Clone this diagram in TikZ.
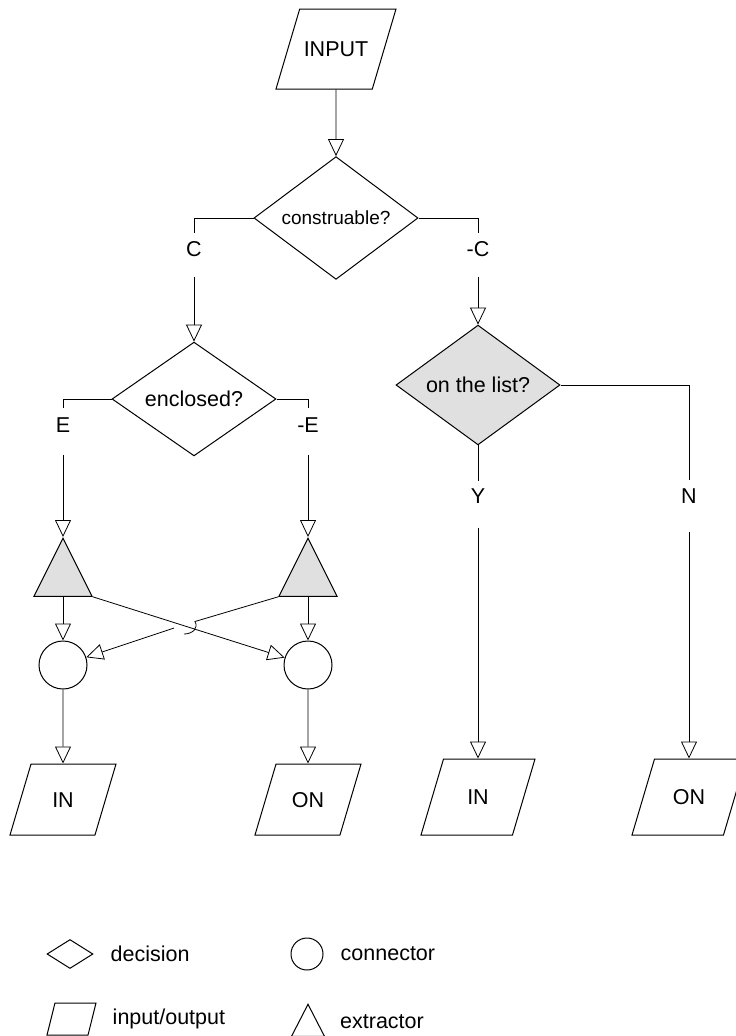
\documentclass[tikz,border=0pt]{standalone}
\usepackage{fontspec}
\setmainfont{Liberation Sans}
\usetikzlibrary{shapes.geometric,arrows.meta,positioning}

\tikzset{
    every node/.style={font=\fontsize{21.5pt}{25pt}\selectfont},
    link/.style={line width=0.8pt},
    flow/.style={line width=0.8pt, -{Triangle[open, length=17pt, width=16pt]}},
    decision/.style={diamond, draw, line width=1pt, minimum width=164pt, minimum height=108pt, inner sep=0pt},
    inout/.style={trapezium, trapezium left angle=73.5, trapezium right angle=106.5, trapezium stretches body, draw, line width=1pt, text height=15.5pt, text depth=0pt, inner xsep=0pt, inner ysep=27.75pt, minimum width=106pt},
    joint/.style={circle, draw, line width=1pt, minimum size=48pt, inner sep=0pt},
    extractor/.style={isosceles triangle, shape border rotate=90, isosceles triangle stretches, draw, line width=1pt, fill=black!12, minimum width=58pt, minimum height=58pt, inner sep=0pt, anchor=apex},
    flag/.style={inner sep=0pt},
}

\begin{document}
\begin{tikzpicture}[x=1pt, y=-1pt]
        \useasboundingbox (0,0) rectangle (736,1036);

        % flow chart
        \node[inout, minimum width=120pt, inner ysep=32.25pt] (input) at (336,49) {INPUT};
        \node[decision, font=\fontsize{19pt}{22pt}\selectfont] (constr) at (336,218) {construable?};
        \node[flag] (c) at (194,249) {C};
        \node[flag] (nc) at (478,249) {-C};
        \node[decision] (encl) at (194,399) {enclosed?};
        \node[decision, fill=black!12] (list) at (478,385) {on the list?};
        \node[flag] (e) at (63,425) {E};
        \node[flag] (ne) at (308,425) {-E};
        \node[flag] (y) at (478,496) {Y};
        \node[flag] (n) at (689,496) {N};
        \node[extractor] (ltri) at (63,537) {};
        \node[extractor] (rtri) at (308,537) {};
        \node[joint] (lcon) at (63,665) {};
        \node[joint] (rcon) at (308,665) {};
        \node[inout] (lin) at (63,799.5) {IN};
        \node[inout] (lon) at (308,799.5) {ON};
        \node[inout, minimum width=114pt, inner ysep=30.25pt] (rin) at (478,797) {IN};
        \node[inout, minimum width=114pt, inner ysep=30.25pt] (ron) at (689,797) {ON};

        \draw[flow] (input) -- (constr);
        \draw[link, shorten >=8pt] (constr.west) -| (c.north);
        \draw[flow, shorten <=20pt] (c.south) -- (encl.north);
        \draw[link, shorten >=8pt] (constr.east) -| (nc.north);
        \draw[flow, shorten <=20pt] (nc.south) -- (list.north);
        \draw[link, shorten >=9pt] (encl.west) -| (e.north);
        \draw[flow, shorten <=22pt] (e.south) -- (ltri.apex);
        \draw[link, shorten >=9pt] (encl.east) -| (ne.north);
        \draw[flow, shorten <=22pt] (ne.south) -- (rtri.apex);
        \draw[link, shorten >=7pt] (list.south) -- (y.north);
        \draw[flow, shorten <=24pt] (y.south) -- (rin.north);
        \draw[link, shorten >=8pt] (list.east) -| (n.north);
        \draw[flow, shorten <=28pt] (n.south) -- (ron.north);

        \draw[flow] (ltri.south) -- (lcon.north);
        \draw[flow] (rtri.south) -- (rcon.north);
        \draw[flow] (ltri.right corner) -- (rcon);
        \coordinate (hopa) at (195,621.5);
        \coordinate (hopb) at (184,634);
        \coordinate (hopc) at (174,628);
        \draw[link] (rtri.left corner) -- (hopa) .. controls +(4,7) and +(8,0) .. (hopb);
        \draw[flow] (hopc) -- (lcon);
        \draw[flow] (lcon) -- (lin);
        \draw[flow] (rcon) -- (lon);

        % legend
        \node[diamond, draw, line width=1pt, minimum width=46pt, minimum height=29pt, inner sep=0pt] (kdec) at (70,954) {};
        \node[flag, right=17pt of kdec] (kdect) {decision};
        \node[joint, minimum size=32pt] (kcon) at (307,954) {};
        \node[flag, right=17pt of kcon] (kcont) {connector};
        \node[inout, trapezium left angle=76, trapezium right angle=104, text height=0pt, inner ysep=16pt, minimum width=49pt] (kio) at (71.5,1019) {};
        \node[flag, right=20pt of kio] (kiot) {input/output};
        \node[extractor, fill=none, minimum width=33pt, minimum height=32pt] (kext) at (308,1003) {};
        \node[flag, anchor=west] (kextt) at (340,1022) {extractor};
    \end{tikzpicture}
\end{document}
